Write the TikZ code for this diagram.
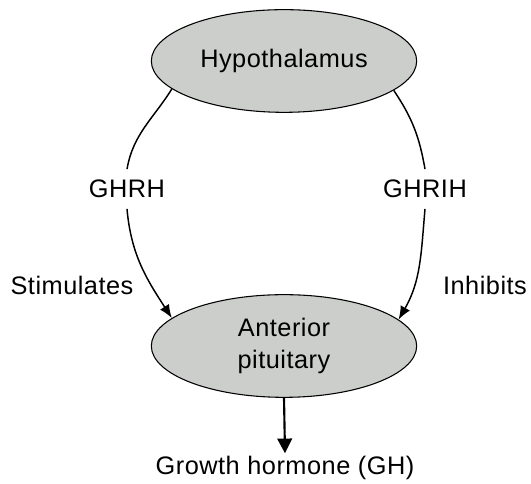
\documentclass[tikz,border=0pt]{standalone}
\usepackage{fontspec}
\setmainfont{Liberation Sans}[LetterSpace=2]
\usetikzlibrary{shapes.geometric,arrows.meta}
\definecolor{glandgray}{RGB}{204,206,204}

\begin{document}
\begin{tikzpicture}[
        x=0.75pt, y=0.75pt,
        gland/.style={ellipse, draw, fill=glandgray, line width=0.8pt,
                      minimum width=199pt, minimum height=77pt, inner sep=0pt,
                      align=center, font=\fontsize{19}{24}\selectfont},
        tag/.style={font=\fontsize{19}{24}\selectfont, inner xsep=2pt, inner ysep=8pt},
        link/.style={line width=1.1pt},
        arr/.style={link, -{Latex[length=10pt, width=8pt]}},
    ]
        \useasboundingbox (0,0) rectangle (531,484);

        % Glands
        \node[gland] (hypo) at (284, 423) {Hypothalamus};
        \node[gland] (pit) at (284, 138) {Anterior\\pituitary};

        % Hormones and effects
        \node[tag] (ghrh) at (127, 295) {GHRH};
        \node[tag] (ghrih) at (425, 295) {GHRIH};
        \node[tag] (stim) at (72, 199) {Stimulates};
        \node[tag] (inhib) at (485, 199) {Inhibits};
        \node[tag, inner ysep=2pt] (gh) at (285, 16) {Growth hormone (GH)};

        \draw[link] (hypo.194) to[out=238, in=80] (ghrh.north);
        \draw[arr] (ghrh.south) to[out=-85, in=123] (pit.166);
        \draw[link] (hypo.345) to[out=-56, in=100] (ghrih.north);
        \draw[arr] (ghrih.south) to[out=-95, in=60] (pit.13);

        \draw[line width=1.6pt, -{Triangle[length=11pt, width=11pt]}] (pit.south) -- (gh.north);
    \end{tikzpicture}
\end{document}
